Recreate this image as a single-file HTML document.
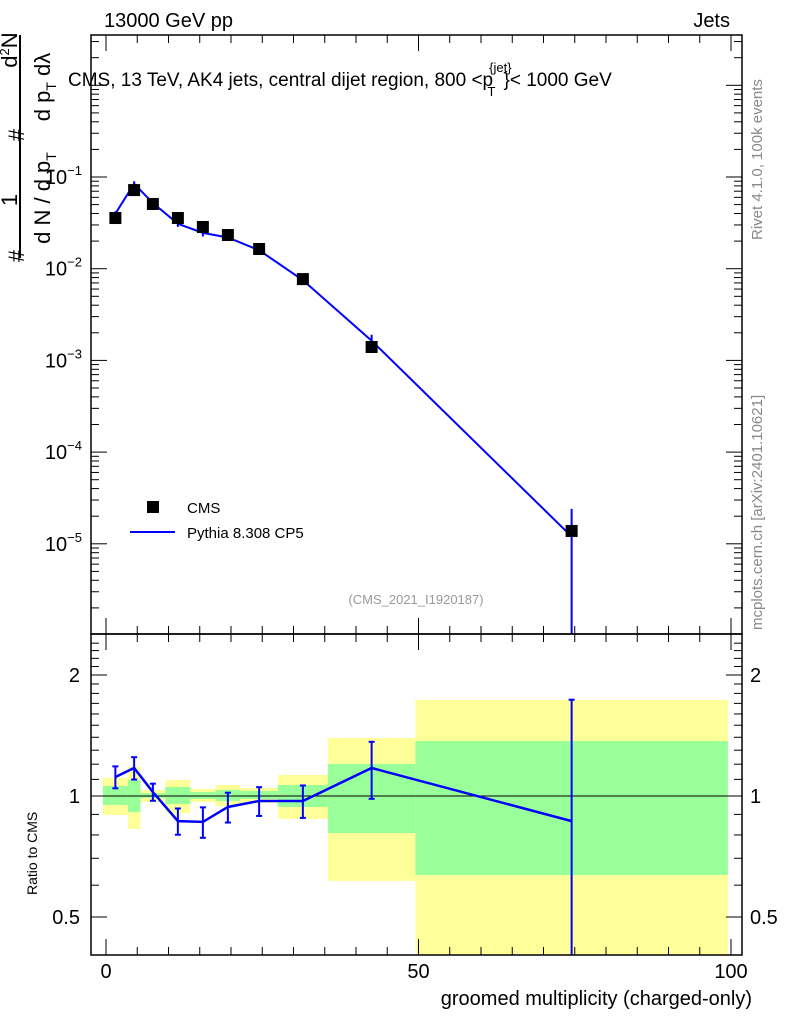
<!DOCTYPE html>
<html><head><meta charset="utf-8"><style>
body{margin:0;background:#fff;}
svg text{font-family:"Liberation Sans",sans-serif;}
</style></head><body>
<svg id="c" width="786" height="1024" viewBox="0 0 786 1024" xmlns="http://www.w3.org/2000/svg">
<g id="bands"></g>
<g id="main"></g>
<g id="frames"></g>
<text x="104" y="27" font-size="20">13000 GeV pp</text>
<text x="730" y="27" font-size="20" text-anchor="end">Jets</text>
<text x="68" y="86" font-size="19">CMS, 13 TeV, AK4 jets, central dijet region, 800 &lt;p<tspan font-size="13" dy="-14" dx="-4">{jet}</tspan><tspan font-size="13" dy="24" dx="-24">T</tspan><tspan dy="-10" dx="8">}&lt; 1000 GeV</tspan></text>
<text x="416" y="604" font-size="13" fill="#999" text-anchor="middle">(CMS_2021_I1920187)</text>
<text transform="translate(762,240) rotate(-90)" font-size="15" fill="#888">Rivet 4.1.0,  100k events</text>
<text transform="translate(762,630) rotate(-90)" font-size="15" fill="#888">mcplots.cern.ch [arXiv:2401.10621]</text>
<g font-size="22">
<line x1="20" y1="35" x2="20" y2="258" stroke="#000" stroke-width="2"/>
<text transform="translate(24,256) rotate(-90)" text-anchor="middle">#</text>
<text transform="translate(17,200) rotate(-90)" text-anchor="middle">1</text>
<text transform="translate(24,135) rotate(-90)" text-anchor="middle">#</text>
<text transform="translate(17,50) rotate(-90)" text-anchor="middle">d<tspan font-size="13" dy="-8">2</tspan><tspan dy="8">N</tspan></text>
<text transform="translate(50,198) rotate(-90)" text-anchor="middle">d N / d p<tspan font-size="14" dy="6">T</tspan></text>
<text transform="translate(50,87) rotate(-90)" text-anchor="middle">d p<tspan font-size="14" dy="6">T</tspan><tspan dy="-6">  dλ</tspan></text>
</g>
<text transform="translate(37,895) rotate(-90)" font-size="14">Ratio to CMS</text>
<text x="752" y="1005" font-size="20" text-anchor="end">groomed multiplicity (charged-only)</text>
<g>
<rect x="147" y="501" width="12" height="12" fill="#000"/>
<text x="187" y="513" font-size="15">CMS</text>
<line x1="130" y1="532" x2="175" y2="532" stroke="#00f" stroke-width="2"/>
<text x="187" y="538" font-size="15">Pythia 8.308 CP5</text>
</g>
</svg>
<script>
const xCenters=[1.5,4.5,7.5,11.5,15.5,19.5,24.5,31.5,42.5,74.5];
const binEdges=[-0.5,3.5,5.5,9.5,13.5,17.5,21.5,27.5,35.5,49.5,99.5];
const cmsValues=[0.0357,0.072,0.0508,0.0357,0.0285,0.0233,0.0164,0.0077,0.0014,1.38e-5];
const pythiaValues=[0.0398,0.0845,0.052,0.0309,0.0246,0.0219,0.0159,0.0075,0.00164,1.2e-5];
const ratioValues=[1.115,1.174,1.023,0.866,0.862,0.939,0.972,0.972,1.174,0.866];
const ratioErrors=[0.07,0.075,0.05,0.065,0.075,0.08,0.08,0.09,0.19,0.87];
const yellowHi=[1.109,1.181,1.035,1.096,1.041,1.065,1.047,1.128,1.394,1.734];
const yellowLo=[0.897,0.828,0.966,0.907,0.966,0.944,0.961,0.877,0.615,0.3];
const greenHi=[1.059,1.096,1.017,1.053,1.023,1.035,1.029,1.065,1.201,1.37];
const greenLo=[0.950,0.912,0.989,0.955,0.983,0.972,0.983,0.939,0.809,0.636];
const mainTicks=[-1,-2,-3,-4,-5];
const ratioTicks=[0.5,1,2];
const xTicks=[0,50,100];
const NS="http://www.w3.org/2000/svg";
const L=91,R=742,T=35,M=634,B=955;
const X=v=>106+v*6.25;
const Y=v=>177-(Math.log10(v)+1)*91.7;
const YR=v=>796-Math.log2(v)*121;
const clampR=y=>Math.max(M,Math.min(B,y));
const clampM=y=>Math.max(T,Math.min(M,y));
function mk(tag,attrs,parent){const e=document.createElementNS(NS,tag);for(const k in attrs)e.setAttribute(k,attrs[k]);parent.appendChild(e);return e;}
const bands=document.getElementById('bands'),main=document.getElementById('main'),fr=document.getElementById('frames');
for(let i=0;i<xCenters.length;i++){
 const x0=X(binEdges[i]),x1=X(binEdges[i+1]);
 let e=mk('rect',{x:x0,y:clampR(YR(yellowHi[i])),width:x1-x0,height:clampR(YR(yellowLo[i]))-clampR(YR(yellowHi[i])),fill:'#ffff99'},bands);
 
 
 e=mk('rect',{x:x0,y:YR(greenHi[i]),width:x1-x0,height:YR(greenLo[i])-YR(greenHi[i]),fill:'#99ff99'},bands);
 
 
}
let e=mk('line',{x1:L,x2:R,y1:YR(1),y2:YR(1),stroke:'#000','stroke-width':1},bands);


let pts=xCenters.map((x,i)=>X(x)+','+Y(pythiaValues[i])).join(' ');
e=mk('polyline',{points:pts,fill:'none',stroke:'#00f','stroke-width':2},main);


for(let i=0;i<xCenters.length;i++){
 const x=X(xCenters[i]),p=pythiaValues[i],er=ratioErrors[i]/ratioValues[i];
 const yt=clampM(Y(p*(1+er))),yb=(1-er)>0?clampM(Y(p*(1-er))):M;
 e=mk('line',{x1:x,x2:x,y1:yt,y2:yb,stroke:'#00f','stroke-width':2},main);
 
 
 e=mk('rect',{x:x-6,y:Y(cmsValues[i])-6,width:12,height:12,fill:'#000'},main);
 
 
}
pts=xCenters.map((x,i)=>X(x)+','+YR(ratioValues[i])).join(' ');
e=mk('polyline',{points:pts,fill:'none',stroke:'#00f','stroke-width':2.5},main);


for(let i=0;i<xCenters.length;i++){
 const x=X(xCenters[i]);
 const yt=clampR(YR(ratioValues[i]+ratioErrors[i])),yb=ratioValues[i]-ratioErrors[i]>0?clampR(YR(ratioValues[i]-ratioErrors[i])):B;
 e=mk('line',{x1:x,x2:x,y1:yt,y2:yb,stroke:'#00f','stroke-width':2},main);
 
 
 for(const yy of [yt,yb]){ if(yy>M&&yy<B){mk('line',{x1:x-3,x2:x+3,y1:yy,y2:yy,stroke:'#00f','stroke-width':2},main);} }
}
e=mk('rect',{x:L,y:T,width:R-L,height:M-T,fill:'none',stroke:'#000','stroke-width':1.5},fr);


e=mk('rect',{x:L,y:M,width:R-L,height:B-M,fill:'none',stroke:'#000','stroke-width':1.5},fr);


for(let v=0;v<=100;v+=5){
 const x=X(v),len=(v%50===0)?16:8;
 for(const [y0,d] of [[T,1],[M,-1],[M,1],[B,-1]]) mk('line',{x1:x,x2:x,y1:y0,y2:y0+d*len,stroke:'#000'},fr);
}
xTicks.forEach(v=>{const t=mk('text',{x:X(v),y:978,'font-size':20,'text-anchor':'middle'},fr);t.textContent=v;
 
 });
for(let d=-6;d<=0;d++){for(let k=1;k<10;k++){const y=Y(k*Math.pow(10,d));if(y<T||y>M)continue;const len=k===1?16:8;
 mk('line',{x1:L,x2:L+len,y1:y,y2:y,stroke:'#000'},fr);mk('line',{x1:R,x2:R-len,y1:y,y2:y,stroke:'#000'},fr);}}
mainTicks.forEach(p=>{const t=mk('text',{x:82,y:Y(Math.pow(10,p))+7,'font-size':20,'text-anchor':'end'},fr);
 t.innerHTML='10<tspan font-size="13" dy="-9">'+(p<0?'−':'')+Math.abs(p)+'</tspan>';
 
 });
for(let v=0.4;v<=2.5;v+=0.1){const y=YR(v);if(y<M||y>B)continue;const maj=[0.5,1,2].some(m=>Math.abs(m-v)<1e-6);const len=maj?16:8;
 mk('line',{x1:L,x2:L+len,y1:y,y2:y,stroke:'#000'},fr);mk('line',{x1:R,x2:R-len,y1:y,y2:y,stroke:'#000'},fr);}
[1,2].forEach(v=>{const y=YR(v);mk('line',{x1:L,x2:L+16,y1:y,y2:y,stroke:'#000'},fr);mk('line',{x1:R,x2:R-16,y1:y,y2:y,stroke:'#000'},fr);});
ratioTicks.forEach(v=>{for(const [x,a] of [[80,'end'],[750,'start']]){const t=mk('text',{x:x,y:YR(v)+7,'font-size':20,'text-anchor':a},fr);t.textContent=v;
 
 }});
</script>
</body></html>
